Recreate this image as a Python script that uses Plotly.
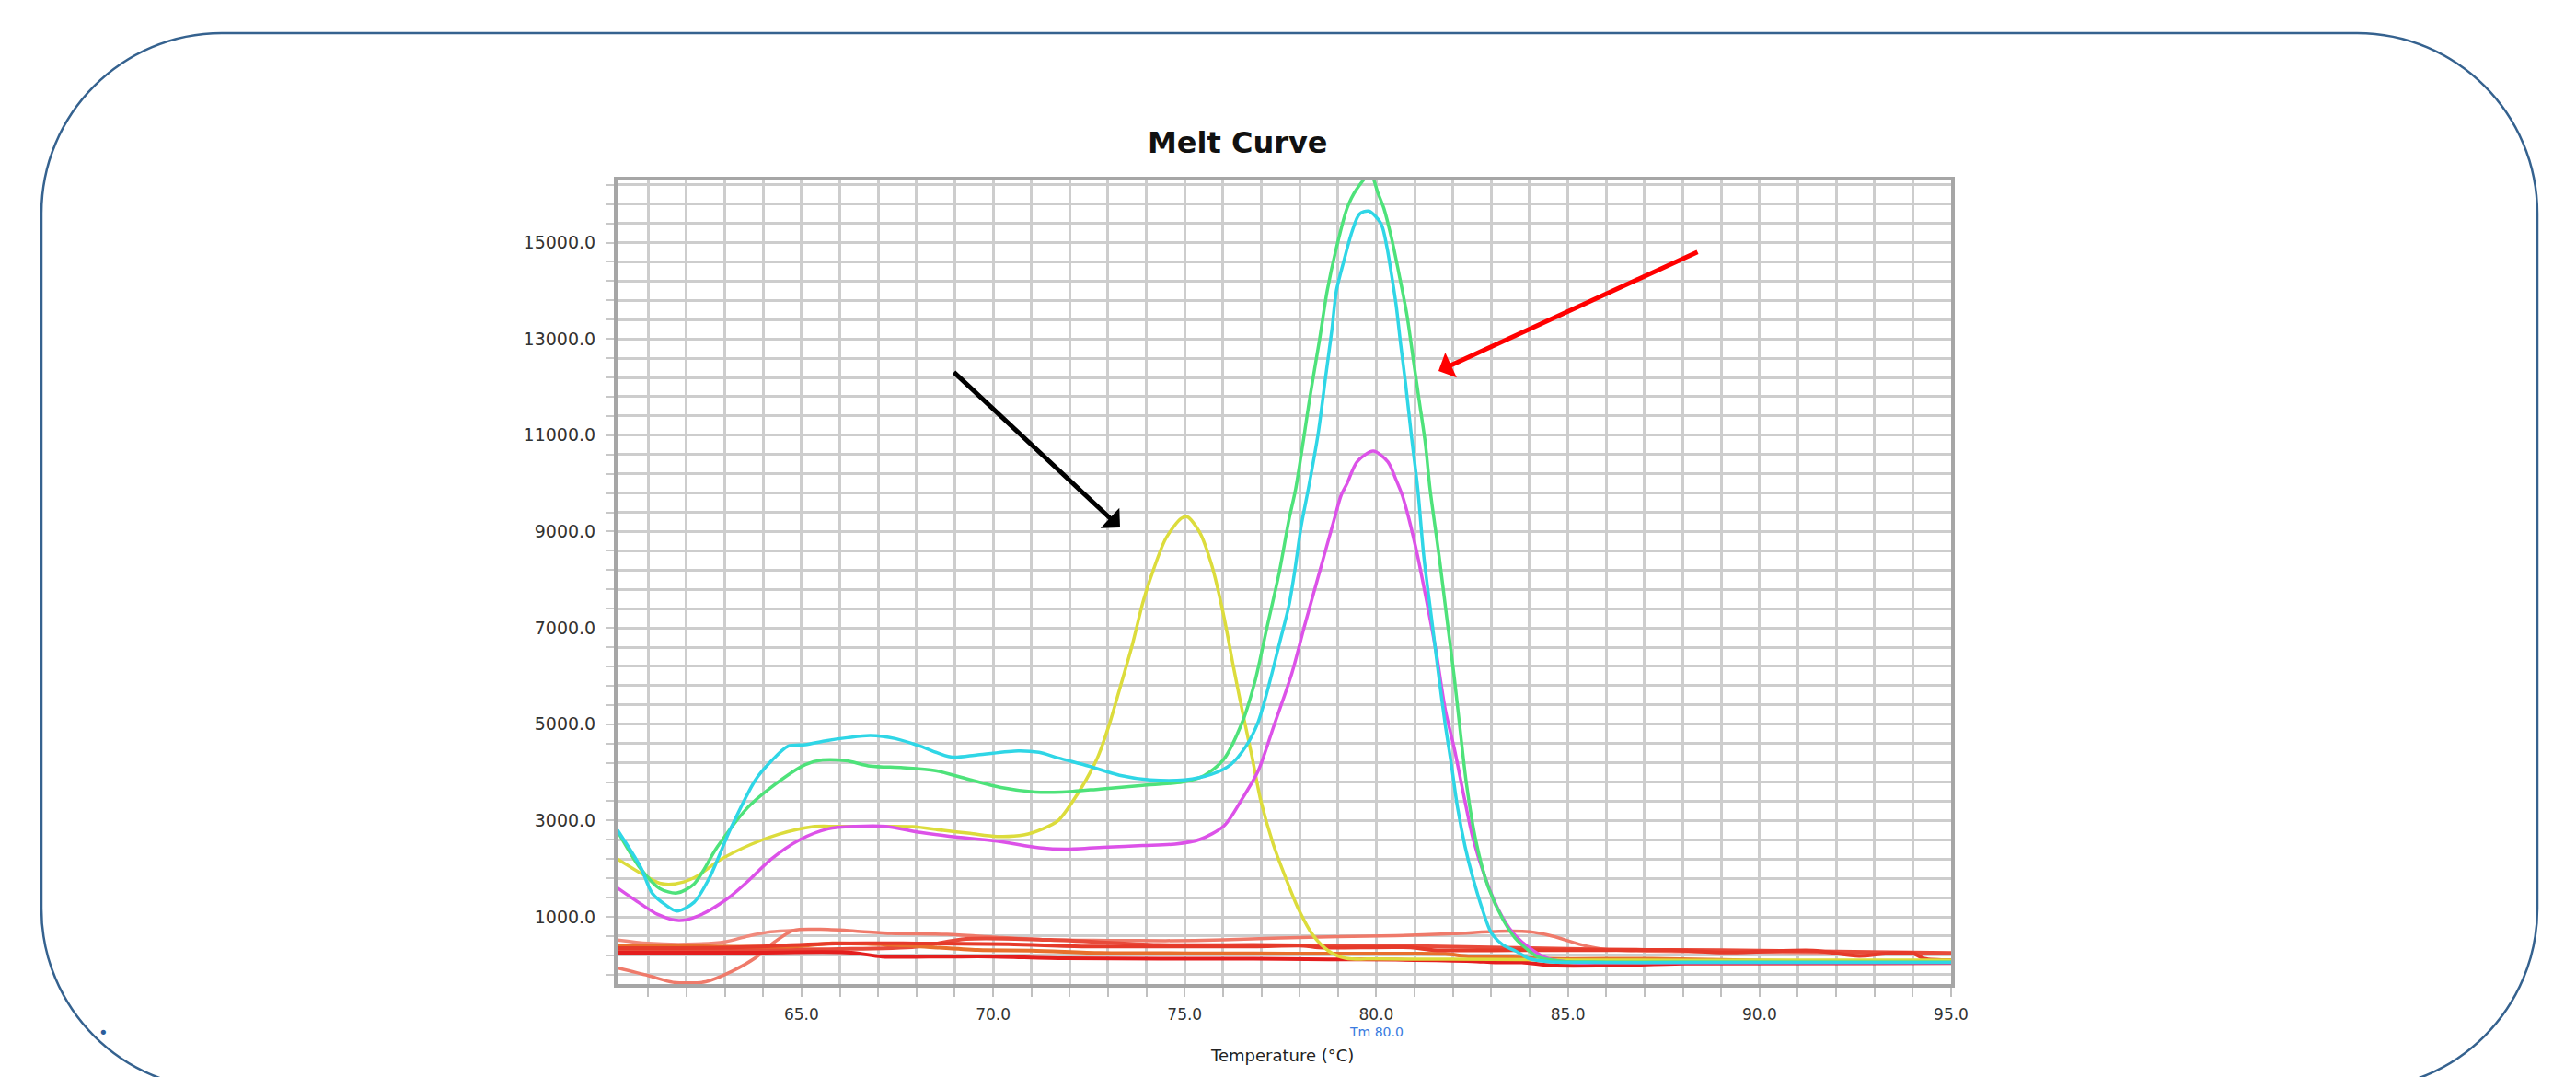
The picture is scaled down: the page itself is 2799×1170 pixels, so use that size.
import plotly.graph_objects as go

# ---------------- data ----------------
temp_cyan = [60.2, 60.8, 61.1, 61.45, 61.75, 62.2, 62.6, 63.15, 63.8, 64.2, 64.65, 65.1, 65.6, 66.2, 66.8,
             67.45, 68.1, 68.9, 69.6, 70.66, 71.2, 71.7, 72.5, 73.3, 74.1, 75.0, 75.7, 76.2, 76.6, 76.92,
             77.24, 77.48, 77.72, 77.88, 78.04, 78.24, 78.48, 78.68, 78.84, 78.96, 79.16, 79.36, 79.56,
             79.8, 80.12, 80.28, 80.4, 80.52, 80.64, 80.76, 80.92, 81.08, 81.24, 81.44, 81.64, 81.8, 81.96,
             82.12, 82.32, 82.52, 82.76, 83.0, 83.3, 83.63, 84.0, 84.5, 85.5, 88.0, 91.0, 93.4, 95.0]
rfu_cyan = [2800, 2034, 1495, 1250, 1120, 1304, 1812, 2828, 3844, 4225, 4543, 4574, 4650, 4720, 4765,
            4701, 4543, 4320, 4365, 4447, 4415, 4300, 4130, 3940, 3844, 3844, 3959, 4162, 4543, 5051,
            5940, 6701, 7463, 8225, 9114, 9939, 11019, 12226, 13178, 14003, 14638, 15210, 15590,
            15654, 15400, 14892, 14320, 13686, 12861, 12099, 10962, 9900, 8486, 7210, 5940, 4987, 4162,
            3273, 2448, 1813, 1178, 670, 420, 292, 130, 70, 53, 53, 53, 53, 53]

temp_green = [60.2, 60.8, 61.3, 61.75, 62.2, 62.8, 63.6, 64.2, 65.1, 65.55, 66.15, 66.8, 67.65, 68.5, 69.35,
              70.2, 71.1, 71.8, 72.8, 73.9, 74.95, 75.5, 76.0, 76.51, 76.83, 77.15, 77.47, 77.72, 77.9,
              78.28, 78.52, 78.72, 78.96, 79.24, 79.48, 79.85, 80.04, 80.2, 80.4, 80.6, 80.8, 80.96, 81.12,
              81.28, 81.4, 81.64, 81.84, 82.04, 82.2, 82.36, 82.6, 82.92, 83.32, 83.64, 83.9, 84.2, 84.8,
              86.0, 90.0, 95.0]
rfu_green = [2780, 2000, 1590, 1495, 1685, 2447, 3272, 3685, 4161, 4257, 4244, 4130, 4098, 4034, 3857,
             3685, 3590, 3590, 3654, 3730, 3800, 3930, 4250, 5057, 5876, 7019, 8162, 9241, 9900,
             11845, 12988, 14003, 14892, 15718, 16099, 16420, 16035, 15705, 15082, 14320, 13495, 12606, 11715,
             10829, 9900, 8486, 7210, 5940, 4797, 3718, 2575, 1622, 924, 543, 350, 175, 80,
             60, 60, 60]

temp_yellow = [60.2, 60.8, 61.3, 61.7, 62.2, 62.9, 63.7, 64.4, 65.3, 65.9, 66.9, 67.9, 68.7, 69.4, 70.1,
               70.8, 71.3, 71.7, 72.19, 72.5, 72.75, 73.03, 73.31, 73.63, 73.91, 74.11, 74.51, 74.91, 75.07,
               75.39, 75.71, 76.03, 76.27, 76.51, 76.75, 76.99, 77.31, 77.63, 77.96, 78.36, 78.78, 79.2,
               80.0, 82.0, 84.0, 86.0, 90.0, 95.0]
rfu_yellow = [2200, 1907, 1698, 1685, 1812, 2193, 2510, 2714, 2873, 2879, 2879, 2873, 2796, 2733, 2669,
              2701, 2828, 3000, 3533, 3950, 4352, 4987, 5749, 6638, 7530, 8035, 8860, 9273, 9305,
              8987, 8290, 7210, 6200, 5248, 4352, 3400, 2511, 1820, 1178, 606, 280, 140,
              125, 120, 110, 100, 100, 100]

temp_magenta = [60.2, 60.8, 61.25, 61.8, 62.3, 63.05, 63.7, 64.2, 64.97, 65.7, 66.4, 67.2, 68.1, 68.9, 70.1,
                71.2, 71.9, 73.0, 73.9, 74.75, 75.39, 76.03, 76.51, 76.92, 77.31, 77.8, 78.12, 78.52, 78.92,
                79.08, 79.24, 79.5, 79.92, 80.3, 80.52, 80.68, 80.84, 81.08, 81.32, 81.56, 81.8, 82.04, 82.28,
                82.52, 82.84, 83.17, 83.56, 84.0, 84.49, 85.2, 86.0, 90.0, 95.0]
rfu_magenta = [1600, 1272, 1050, 923, 1018, 1368, 1812, 2193, 2606, 2828, 2879, 2879, 2752, 2669, 2574,
               2434, 2403, 2448, 2480, 2511, 2606, 2892, 3463, 4034, 4924, 6067, 7019, 8162, 9305,
               9749, 10003, 10450, 10670, 10450, 10067, 9749, 9300, 8486, 7530, 6511, 5305, 4480, 3533,
               2638, 1820, 1178, 673, 352, 130, 50, 50, 50, 50]

temp_salmon = [60.2, 61.0, 61.65, 62.5, 63.2, 63.8, 64.3, 64.8, 65.5, 66.4, 67.35, 68.8, 70.1, 71.5, 73.0,
               74.5, 76.0, 77.5, 79.0, 80.5, 82.0, 83.2, 84.0, 84.6, 85.3, 86.0, 86.5, 88.0, 91.0, 95.0]
rfu_salmon = [-60, -219, -359, -346, -124, 150, 480, 720, 740, 705, 655, 638, 575, 520, 510,
              505, 520, 560, 590, 610, 650, 700, 690, 600, 430, 320, 300, 280, 260, 240]

temp_salmon2 = [60.2, 61.0, 62.0, 63.0, 63.6, 64.2, 64.8]
rfu_salmon2 = [520, 450, 430, 480, 600, 690, 720]

temp_orange = [60.2, 62.0, 64.8, 65.8, 66.7, 68.0, 69.6, 71.0, 72.8, 74.3, 76.0, 77.7, 78.8, 80.9, 81.8,
               82.4, 83.0, 84.5, 87.2, 90.0, 93.5, 95.0]
rfu_orange = [390, 390, 385, 450, 440, 390, 310, 300, 250, 245, 240, 238, 235, 238, 230,
              180, 175, 130, 130, 90, 55, 50]

temp_red1 = [60.2, 61.9, 63.8, 66.3, 67.1, 68.8, 70.0, 71.9, 76.8, 78.8, 80.5, 82.5, 83.1, 83.8, 84.6,
             86.1, 88.0, 95.0]
rfu_red1 = [257, 257, 257, 257, 175, 175, 175, 140, 130, 118, 110, 80, 54, 54, -9,
            -9, 30, 40]

temp_red2 = [60.2, 63.0, 65.9, 68.0, 70.4, 72.4, 74.5, 76.8, 78.1, 78.5, 80.9, 81.5, 83.6, 85.3, 87.7,
             89.1, 91.4, 92.6, 93.4, 94.0, 94.3, 95.0]
rfu_red2 = [350, 360, 448, 448, 430, 384, 384, 384, 400, 365, 365, 308, 308, 308, 308,
            260, 300, 190, 245, 245, 130, 100]

temp_red3 = [60.2, 63.0, 66.0, 68.0, 69.3, 71.5, 74.3, 76.8, 78.0, 80.0, 82.0, 84.0, 86.0, 88.0, 90.0,
             92.0, 95.0]
rfu_red3 = [300, 320, 330, 380, 540, 520, 416, 416, 410, 400, 380, 350, 320, 310, 300,
            280, 250]

x_tick_vals = [65, 70, 75, 80, 85, 90, 95]
x_tick_text = ["65.0", "70.0", "75.0", "80.0", "85.0", "90.0", "95.0"]
y_tick_vals = [1000, 3000, 5000, 7000, 9000, 11000, 13000, 15000]
y_tick_text = ["1000.0", "3000.0", "5000.0", "7000.0", "9000.0", "11000.0", "13000.0", "15000.0"]
tm_value = 80.0

# ---------------- geometry ----------------
W_FIG, H_FIG = 2799, 1170
L, R, T, B = 671, 2120, 196, 1069
PW, PH = R - L, B - T


def paper(px, py):
    return (px - L) / PW, (B - py) / PH


fig = go.Figure()

series = [
    (temp_salmon2, rfu_salmon2, "#f08a7c", 3.5),
    (temp_salmon, rfu_salmon, "#ef7a6a", 3.5),
    (temp_red3, rfu_red3, "#e84a3a", 4),
    (temp_orange, rfu_orange, "#e8702c", 4),
    (temp_red2, rfu_red2, "#e63a2a", 4),
    (temp_red1, rfu_red1, "#e41e1e", 4),
    (temp_yellow, rfu_yellow, "#dcdc3c", 3.5),
    (temp_magenta, rfu_magenta, "#dc52e8", 3.5),
    (temp_green, rfu_green, "#4ee27a", 3.5),
    (temp_cyan, rfu_cyan, "#2fd6e6", 3.5),
]
for xs, ys, col, w in series:
    fig.add_trace(go.Scatter(x=xs, y=ys, mode="lines",
                             line=dict(color=col, width=w, shape="spline", smoothing=0.8),
                             showlegend=False, hoverinfo="skip"))

grid_col = "#cdcdcd"
fig.update_xaxes(range=[60.2, 95.0], tickmode="array", tickvals=x_tick_vals, ticktext=x_tick_text,
                 showgrid=True, gridcolor=grid_col, gridwidth=3,
                 ticks="outside", ticklen=10, tickwidth=2, tickcolor="#c0c0c0",
                 ticklabelstandoff=5,
                 minor=dict(tick0=60, dtick=1, showgrid=True, gridcolor=grid_col, gridwidth=3,
                            ticks="outside", ticklen=10, tickwidth=2, tickcolor="#c0c0c0"),
                 showline=True, linecolor="#a6a6a6", linewidth=4, mirror=True, zeroline=False,
                 tickfont=dict(family="DejaVu Sans", size=17, color="#333333"))
fig.update_yaxes(range=[-395, 16290], tickmode="array", tickvals=y_tick_vals, ticktext=y_tick_text,
                 showgrid=True, gridcolor=grid_col, gridwidth=3,
                 ticks="outside", ticklen=8, tickwidth=2, tickcolor="#c8c8c8",
                 ticklabelstandoff=8,
                 minor=dict(tick0=200, dtick=400, showgrid=True, gridcolor=grid_col, gridwidth=3,
                            ticks="outside", ticklen=8, tickwidth=2, tickcolor="#c8c8c8"),
                 showline=True, linecolor="#a6a6a6", linewidth=4, mirror=True, zeroline=False,
                 tickfont=dict(family="DejaVu Sans", size=19, color="#333333"))

# Tm cursor line
fig.add_shape(type="line", xref="x", yref="paper", x0=tm_value, x1=tm_value, y0=0, y1=1,
              line=dict(color="#c3d3f0", width=2, dash="dot"), layer="between")

# rounded frame
x0, y0, x1, y1, r = 45, 36, 2757, 1183, 196
k = 0.5523 * r
pts = [
    ("M", [(x0 + r, y0)]),
    ("L", [(x1 - r, y0)]),
    ("C", [(x1 - r + k, y0), (x1, y0 + r - k), (x1, y0 + r)]),
    ("L", [(x1, y1 - r)]),
    ("C", [(x1, y1 - r + k), (x1 - r + k, y1), (x1 - r, y1)]),
    ("L", [(x0 + r, y1)]),
    ("C", [(x0 + r - k, y1), (x0, y1 - r + k), (x0, y1 - r)]),
    ("L", [(x0, y0 + r)]),
    ("C", [(x0, y0 + r - k), (x0 + r - k, y0), (x0 + r, y0)]),
]
path = ""
for cmd, plist in pts:
    path += cmd + " ".join("%.5f,%.5f" % paper(px, py) for px, py in plist) + " "
path += "Z"
fig.add_shape(type="path", xref="paper", yref="paper", path=path,
              line=dict(color="#35628f", width=2.5), layer="above")

annotations = []
# title
tx, ty = paper(1345, 155)
annotations.append(dict(x=tx, y=ty, xref="paper", yref="paper", text="<b>Melt Curve</b>",
                        showarrow=False, xanchor="center", yanchor="middle",
                        font=dict(family="DejaVu Sans", size=32, color="#111111")))
# x axis title
ax_, ay_ = paper(1393, 1146)
annotations.append(dict(x=ax_, y=ay_, xref="paper", yref="paper", text="Temperature (°C)",
                        showarrow=False, xanchor="center", yanchor="middle",
                        font=dict(family="DejaVu Sans", size=18, color="#222222")))
# Tm label
_, tmy = paper(0, 1121)
annotations.append(dict(x=tm_value, y=tmy, xref="x", yref="paper", text="Tm 80.0",
                        showarrow=False, xanchor="center", yanchor="middle",
                        font=dict(family="DejaVu Sans", size=14, color="#3a7be0")))
# bullet
bx, by = paper(112, 1121)
annotations.append(dict(x=bx, y=by, xref="paper", yref="paper", text="•",
                        showarrow=False, xanchor="center", yanchor="middle",
                        font=dict(family="DejaVu Sans", size=18, color="#2b5d9b")))
# black arrow
kx, ky = paper(1217, 573)
annotations.append(dict(x=kx, y=ky, xref="paper", yref="paper", text="", showarrow=True,
                        ax=1035 - 1217, ay=403 - 573, arrowhead=1, arrowsize=1, arrowwidth=5,
                        arrowcolor="#000000", standoff=0))
# red arrow
rx, ry = paper(1563, 403)
annotations.append(dict(x=rx, y=ry, xref="paper", yref="paper", text="", showarrow=True,
                        ax=1846 - 1563, ay=273 - 403, arrowhead=1, arrowsize=1, arrowwidth=5,
                        arrowcolor="#ff0000", standoff=0))

fig.update_layout(width=W_FIG, height=H_FIG, autosize=False,
                  margin=dict(l=L, r=W_FIG - R, t=T, b=H_FIG - B, pad=0),
                  paper_bgcolor="white", plot_bgcolor="white",
                  annotations=annotations, showlegend=False,
                  font=dict(family="DejaVu Sans"))

fig.write_html("out.html", config={"displayModeBar": False},
               post_script="document.body.style.margin='0';document.body.style.overflow='hidden';")
